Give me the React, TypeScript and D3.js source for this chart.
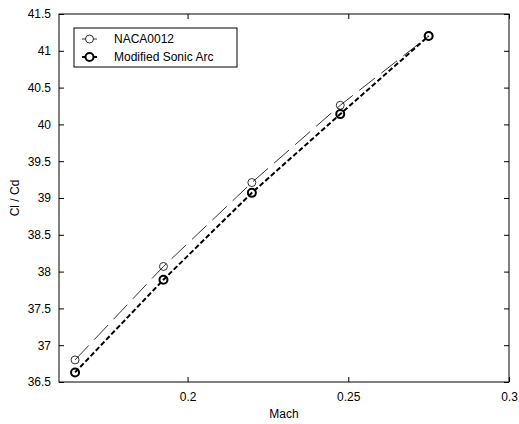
import React, { useEffect, useRef } from 'react';
import * as d3 from 'd3';

const mach = [0.165, 0.1925, 0.22, 0.2475, 0.275];
const naca0012 = [36.8, 38.07, 39.21, 40.26, 41.2];
const sonicArc = [36.63, 37.89, 39.07, 40.14, 41.2];
const xTicks = [0.2, 0.25, 0.3];
const yTicks = [36.5, 37, 37.5, 38, 38.5, 39, 39.5, 40, 40.5, 41, 41.5];
const seriesNames = ['NACA0012', 'Modified Sonic Arc'];

const W = 519;
const H = 424;
const FONT = 'Liberation Sans, Arial, sans-serif';

export default function App() {
  const svgRef = useRef<SVGSVGElement>(null);

  useEffect(() => {
    const svg = d3.select(svgRef.current);
    svg.selectAll('*').remove();

    const margin = { top: 14, right: 10, bottom: 42, left: 59 };
    const width = W - margin.left - margin.right;
    const height = H - margin.top - margin.bottom;

    const x = d3.scaleLinear().domain([0.16, 0.3]).range([0, width]);
    const y = d3.scaleLinear().domain([36.5, 41.5]).range([height, 0]);

    const g = svg.append('g').attr('transform', `translate(${margin.left},${margin.top})`);

    // frame
    g.append('rect')
      .attr('width', width)
      .attr('height', height)
      .attr('fill', 'none')
      .attr('stroke', '#000')
      .attr('stroke-width', 1);

    const styleAxis = (sel: any) => {
      sel.select('.domain').remove();
      sel.selectAll('line').attr('stroke', '#000');
      sel.selectAll('text').style('font-family', FONT).style('font-size', '12px').attr('fill', '#000');
    };

    g.append('g')
      .attr('transform', `translate(0,${height})`)
      .call(d3.axisBottom(x).tickValues(xTicks).tickSizeInner(-5).tickSizeOuter(0).tickPadding(10).tickFormat(d3.format('~g')))
      .call(styleAxis);
    g.append('g')
      .call(d3.axisTop(x).tickValues(xTicks).tickSizeInner(-5).tickSizeOuter(0).tickFormat(() => ''))
      .call(styleAxis);
    g.append('g')
      .call(d3.axisLeft(y).tickValues(yTicks).tickSizeInner(-5).tickSizeOuter(0).tickPadding(8).tickFormat(d3.format('~g')))
      .call(styleAxis);
    g.append('g')
      .attr('transform', `translate(${width},0)`)
      .call(d3.axisRight(y).tickValues(yTicks).tickSizeInner(-5).tickSizeOuter(0).tickFormat(() => ''))
      .call(styleAxis);

    const line = d3
      .line<number>()
      .x((d, i) => x(mach[i]))
      .y((d) => y(d));

    // NACA0012
    g.append('path')
      .datum(naca0012)
      .attr('d', line)
      .attr('fill', 'none')
      .attr('stroke', '#000')
      .attr('stroke-width', 0.8)
      .attr('stroke-dasharray', '20,8');
    g.selectAll('.c1')
      .data(naca0012)
      .join('circle')
      .attr('cx', (d, i) => x(mach[i]))
      .attr('cy', (d) => y(d))
      .attr('r', 4)
      .attr('fill', 'none')
      .attr('stroke', '#000')
      .attr('stroke-width', 0.8);

    // Modified Sonic Arc
    g.append('path')
      .datum(sonicArc)
      .attr('d', line)
      .attr('fill', 'none')
      .attr('stroke', '#000')
      .attr('stroke-width', 2)
      .attr('stroke-dasharray', '5,2.5');
    g.selectAll('.c2')
      .data(sonicArc)
      .join('circle')
      .attr('cx', (d, i) => x(mach[i]))
      .attr('cy', (d) => y(d))
      .attr('r', 4)
      .attr('fill', 'none')
      .attr('stroke', '#000')
      .attr('stroke-width', 2);

    // axis labels
    g.append('text')
      .attr('x', width / 2)
      .attr('y', height + 36)
      .attr('text-anchor', 'middle')
      .style('font-family', FONT)
      .style('font-size', '12px')
      .text('Mach');
    g.append('text')
      .attr('transform', `translate(${-40},${height / 2}) rotate(-90)`)
      .attr('text-anchor', 'middle')
      .style('font-family', FONT)
      .style('font-size', '12px')
      .text('Cl / Cd');

    // legend
    const lg = svg.append('g').attr('transform', 'translate(74,28)');
    lg.append('rect')
      .attr('width', 163)
      .attr('height', 39)
      .attr('fill', '#fff')
      .attr('stroke', '#000')
      .attr('stroke-width', 1);
    seriesNames.forEach((name, i) => {
      const yy = 11 + i * 18;
      const sw = i === 0 ? 0.8 : 2;
      lg.append('line')
        .attr('x1', 8)
        .attr('x2', 23)
        .attr('y1', yy)
        .attr('y2', yy)
        .attr('stroke', '#000')
        .attr('stroke-width', sw);
      lg.append('circle')
        .attr('cx', 15.5)
        .attr('cy', yy)
        .attr('r', 4)
        .attr('fill', '#fff')
        .attr('stroke', '#000')
        .attr('stroke-width', sw);
      lg.append('text')
        .attr('x', 40)
        .attr('y', yy + 4)
        .style('font-family', FONT)
        .style('font-size', '12px')
        .text(name);
    });
  }, []);

  return (
    <svg
      ref={svgRef}
      width={W}
      height={H}
      style={{ position: 'absolute', left: 0, top: 0, background: '#fff' }}
    />
  );
}
